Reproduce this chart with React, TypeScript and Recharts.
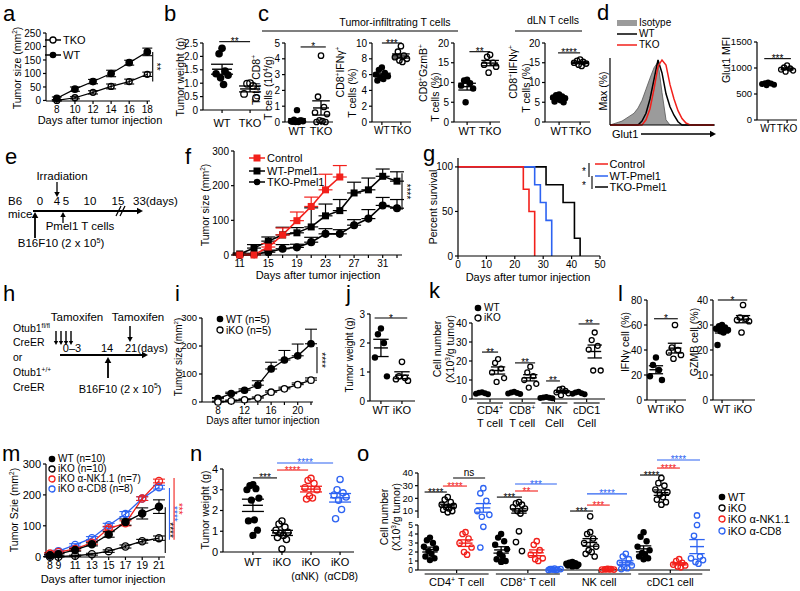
import React from 'react';
import {
  LineChart, Line, AreaChart, Area, ScatterChart, Scatter,
  XAxis, YAxis, ErrorBar, ReferenceLine,
} from 'recharts';

const FONT = '"Liberation Sans", Arial, Helvetica, sans-serif';
const RED = '#f2201b';
const BLUE = '#2d63f2';
const INK = '#000';

// a: tumor growth
const aDays = [8, 10, 12, 14, 16, 18];
const aWT = [8, 42, 70, 100, 140, 180];
const aWTsem = [5, 8, 8, 12, 9, 14];
const aTKO = [0, 10, 30, 52, 70, 97];
const aTKOsem = [2, 4, 6, 9, 9, 8];

// b: tumor weight
const bWT = [2.3, 2.1, 1.45, 1.35, 1.3, 1.2, 0.95];
const bTKO = [1.0, 0.98, 0.9, 0.6, 0.45];
const wtTko = ['WT', 'TKO'];

// c: infiltrating / dLN T cells
const c1WT = [0.75, 0.15, 0.1, 0.05, 0.05, 0, 0, 0.02, 0.1];
const c1TKO = [4.2, 1.6, 0.95, 0.6, 0.5, 0.1, 0.05, 0, 0];
const c2WT = [6.9, 6.6, 6.2, 6.0, 5.8, 5.6, 5.45, 5.25];
const c2TKO = [9.6, 8.9, 8.4, 8.2, 8.0, 7.8, 7.6];
const c3WT = [10.7, 10.5, 9.8, 9.2, 8.5, 5.0];
const c3TKO = [17, 16.5, 15, 14.5, 14, 12.5];
const c4WT = [7.0, 6.8, 6.5, 6.2, 6.0, 5.8, 5.5, 5.2, 5.0];
const c4TKO = [15.8, 15.5, 15.2, 15.0, 14.8, 14.5, 14.2];

// d: Glut1 histogram (% of max) and MFI
const histCh = [0, 4, 8, 12, 16, 20, 24, 28, 32, 36, 40, 44, 48, 52, 56, 60, 64, 68, 72, 76, 80, 84, 88, 92, 96, 100, 104];
const histIso = [0, 2, 4, 6, 10, 14, 18, 26, 38, 55, 72, 88, 97, 50, 8, 0, 0, 0, 0, 0, 0, 0, 0, 0, 0, 0, 0];
const histWT = [0, 0, 0, 0, 0, 0, 0, 0, 6, 18, 40, 70, 100, 80, 48, 28, 15, 5, 0, 0, 0, 0, 0, 0, 0, 0, 0];
const histTKO = [0, 0, 0, 0, 0, 0, 0, 0, 0, 8, 25, 55, 90, 100, 92, 62, 40, 22, 10, 3, 0, 0, 0, 0, 0, 0, 0];
const dWT = [720, 705, 700, 690, 680, 670];
const dTKO = [1050, 1010, 990, 970, 950, 930];

// f: adoptive transfer growth
const fDays = [11, 13, 15, 17, 19, 21, 23, 25, 27, 29, 31, 33];
const fCtlDays = [11, 13, 15, 17, 19, 21, 23, 25];
const fCtl = [0, 0, 23, 58, 99, 140, 188, 225];
const fCtlUp = [2, 2, 10, 20, 25, 27, 45, 33];
const fWT = [3, 20, 40, 58, 64, 81, 113, 128, 179, 188, 227, 213];
const fWTUp = [3, 10, 12, 22, 15, 55, 34, 32, 31, 34, 21, 27];
const fTKO = [0, 2, 8, 18, 22, 37, 61, 61, 86, 105, 143, 135];
const fTKOUp = [3, 3, 6, 12, 9, 14, 15, 12, 16, 26, 23, 25];

// g: survival
const gCtlT = [0, 23, 25, 27];
const gCtlS = [100, 75, 50, 0];
const gWTT = [0, 27, 29, 31, 33];
const gWTS = [100, 80, 60, 40, 0];
const gTKOT = [0, 31, 37, 41, 43];
const gTKOS = [100, 80, 60, 20, 0];

// i: inducible KO growth
const iDays = [8, 10, 12, 14, 16, 18, 20, 22];
const iWT = [12, 30, 42, 60, 118, 150, 165, 208];
const iWTUp = [4, 5, 5, 16, 24, 34, 42, 52];
const iKO = [0, 4, 8, 14, 35, 47, 62, 78];
const iKOUp = [3, 3, 3, 4, 5, 6, 6, 8];

// j
const jWT = [2.5, 2.3, 2.0, 1.5, 0.85];
const jKO = [1.35, 0.85, 0.8, 0.75, 0.7];
const wtIko = ['WT', 'iKO'];

// k: cell numbers
const kCD4WT = [3.6, 3.3, 3.0, 2.8, 2.5];
const kCD4KO = [21, 19, 16, 14, 11, 9];
const kCD8WT = [3.8, 3.4, 3.1, 2.9, 2.6];
const kCD8KO = [17, 14, 12, 10, 8, 6];
const kNKWT = [1.0, 0.8, 0.6, 0.5, 0.4];
const kNKKO = [5.5, 5, 4.2, 3.5, 3, 2];
const kDC1WT = [3.8, 3.4, 3.0, 2.8, 2.5];
const kDC1KO = [35, 31, 28, 26, 15, 15];
const kName = ['CD4', 'CD8', 'NK', 'cDC1'];
const kSup = ['+', '+', '', ''];
const kName2 = ['T cell', 'T cell', 'Cell', 'Cell'];

// l
const l1WT = [34, 28, 24, 19, 16];
const l1KO = [60, 42, 40, 38, 36, 33];
const l2WT = [30, 29.5, 29, 28.5, 28, 27.5, 27, 22];
const l2KO = [38, 33, 32.5, 32, 31.5, 27];

// m: depletion growth
const mDays = [8, 9, 11, 13, 15, 17, 19, 21];
const mWT = [5, 8, 22, 40, 72, 112, 140, 162];
const mWTsem = [3, 3, 4, 5, 9, 10, 18, 22];
const mKO = [0, 0, 3, 8, 18, 33, 50, 60];
const mKOsem = [1, 1, 2, 3, 4, 5, 6, 7];
const mNK = [10, 15, 25, 45, 92, 108, 188, 245];
const mNKsem = [3, 3, 4, 5, 6, 8, 6, 6];
const mCD8 = [5, 18, 38, 60, 102, 138, 188, 225];
const mCD8sem = [3, 3, 4, 5, 6, 8, 6, 6];

// n: tumor weight
const nWT = [3.25, 3.2, 3.05, 3.0, 2.6, 2.5, 1.55, 1.5, 1.05, 0.8];
const nKO = [1.5, 1.35, 1.2, 1.05, 0.95, 0.9, 0.8, 0.7, 0.6, 0.15];
const nNK = [3.55, 3.45, 3.3, 3.1, 3.0, 2.7, 2.6, 2.55];
const nCD8 = [3.5, 3.0, 2.85, 2.75, 2.65, 2.5, 2.05, 1.6];
const nName = ['WT', 'iKO', 'iKO', 'iKO'];
const nName2 = ['', '', '(αNK)', '(αCD8)'];

// o: cell numbers with depletion
const oCD4WT = [3.6, 3.3, 3.0, 2.6, 2.4, 2.1, 1.8, 1.5, 1.3, 1.1];
const oCD4KO = [21, 19, 17, 15, 14, 13, 12, 11, 10, 9];
const oCD4NK = [4.2, 4.0, 3.5, 3.0, 2.5, 2.0, 1.7];
const oCD4CD8 = [28, 24, 18, 10, 7, 5.5, 4.8, 2.5];
const oCD8WT = [4.0, 3.6, 3.2, 2.8, 2.3, 1.8, 1.5, 1.2, 1.0, 0.9];
const oCD8KO = [17, 16, 15, 13, 12, 10, 8, 4.3, 3.1, 2.1];
const oCD8NK = [3.2, 2.8, 2.2, 1.7, 1.3, 1.2, 1.0];
const oCD8CD8 = [0.15, 0.1, 0.05, 0, 0.1, 0.05, 0, 0.1];
const oNKWT = [0.9, 0.8, 0.75, 0.7, 0.6, 0.55, 0.5, 0.5, 0.45, 0.4];
const oNKKO = [5.8, 4.2, 4.0, 3.5, 3.0, 2.6, 2.2, 2.0, 1.8, 1.5];
const oNKNK = [0.12, 0.08, 0.1, 0.05, 0.05, 0.1, 0.08];
const oNKCD8 = [1.8, 1.5, 1.2, 0.8, 0.5, 0.3, 0.2, 0.1];
const oDC1WT = [4.2, 3.7, 3.2, 2.6, 2.2, 1.9, 1.7, 1.5, 1.3, 1.2];
const oDC1KO = [36, 32, 30, 27, 25, 23, 21, 19, 17, 15];
const oDC1NK = [1.2, 1.0, 0.8, 0.6, 0.5, 0.4, 0.3];
const oDC1CD8 = [6.5, 5.0, 3.8, 1.5, 1.3, 1.1, 0.9, 0.7];
const oName = ['CD4', 'CD8', 'NK cell', 'cDC1 cell'];
const oSup = ['+', '+', '', ''];
const oName2 = [' T cell', ' T cell', '', ''];

type Box = { x0: number; y0: number; x1: number; y1: number };
type Grp = { pos: number; vals: number[]; open?: boolean; color?: string };
type Sig = { x1: number; x2: number; y: number; t: string; c?: string };

const AX = { stroke: INK, strokeWidth: 1.2 };
const TK = { fill: INK, fontSize: 10 };

function frame(b: Box, o: { t?: number; r?: number; yw?: number; xh?: number } = {}) {
  const t = o.t ?? 14, r = o.r ?? 8, yw = o.yw ?? 26, xh = o.xh ?? 16;
  return {
    pos: { position: 'absolute' as const, left: b.x0 - yw - 2, top: b.y0 - t },
    width: b.x1 - b.x0 + yw + 2 + r,
    height: b.y1 - b.y0 + t + xh + 2,
    margin: { top: t, right: r, left: 2, bottom: 2 },
    yw, xh,
  };
}

const yNum = (domain: number[], ticks: number[], yw: number, fmt?: any, dk?: string, fs = 10) => (
  <YAxis type="number" dataKey={dk} domain={domain} ticks={ticks} width={yw} tickSize={3}
    tick={{ ...TK, fontSize: fs }} axisLine={AX} tickLine={AX} interval={0} tickFormatter={fmt} />
);

const xNum = (domain: number[], ticks: number[], xh: number, fmt?: any, tick?: any, hide?: boolean, tm = 2) => (
  <XAxis type="number" dataKey="x" domain={domain} ticks={ticks} height={xh} tickSize={3} tickMargin={tm}
    tick={tick ?? { ...TK, fontSize: 11 }} axisLine={AX} tickLine={AX} interval={0} tickFormatter={fmt} hide={hide} />
);

const hLabel = (t: string, col: string, fs = 10) => (p: any) => {
  const vb = p.viewBox || {};
  const star = /^\*+$/.test(t);
  return (
    <text x={vb.x + (vb.width || 0) / 2} y={vb.y + (star ? 3.5 : -2)} textAnchor="middle" fontSize={fs} fill={col}>{t}</text>
  );
};

const vLabel = (t: string, col: string, fs = 10) => (p: any) => {
  const vb = p.viewBox || {};
  const x = vb.x + 0.5;
  const y = vb.y + (vb.height || 0) / 2;
  return <text x={x} y={y} transform={`rotate(90 ${x} ${y})`} textAnchor="middle" fontSize={fs} fill={col}>{t}</text>;
};

const sigLine = (s: Sig, k: string, fs = 10) => (
  <ReferenceLine key={k} segment={[{ x: s.x1, y: s.y }, { x: s.x2, y: s.y }]} stroke={s.c ?? INK}
    strokeWidth={1.1} ifOverflow="visible" label={hLabel(s.t, s.c ?? INK, fs)} />
);

const vSig = (x: number, y1: number, y2: number, t: string, k: string, col = INK) => (
  <ReferenceLine key={k} segment={[{ x, y: y1 }, { x, y: y2 }]} stroke={col} strokeWidth={1.1}
    ifOverflow="visible" label={vLabel(t, col)} />
);

const meanSem = (v: number[]) => {
  const m = v.reduce((a, b) => a + b, 0) / v.length;
  const sd = Math.sqrt(v.reduce((a, b) => a + (b - m) ** 2, 0) / Math.max(1, v.length - 1));
  return { m, e: sd / Math.sqrt(v.length) };
};

// horizontal spread (px) for overlapping dots
const JIT = [0, -3, 3, -6, 6, -1.5, 1.5, -4.5, 4.5, 0, -3, 3];

const dotShape = (open: boolean, col: string, r: number) => (p: any) => (
  <circle cx={p.cx} cy={p.cy} r={open ? r - 0.5 : r} fill={open ? 'none' : col} stroke={col} strokeWidth={open ? 1.3 : 0} />
);
const meanShape = (col: string, w: number) => (p: any) => (
  <line x1={p.cx - w / 2} x2={p.cx + w / 2} y1={p.cy} y2={p.cy} stroke={col} strokeWidth={1.4} />
);

function DotPlot(props: {
  box: Box; xd: number[]; yd: number[]; yTicks: number[]; groups: Grp[];
  xTicks?: number[]; xFmt?: any; xTick?: any; sigs?: Sig[]; meanW?: number; r?: number;
  t?: number; rr?: number; xh?: number; yw?: number; hideX?: boolean; yFmt?: any; keep?: (v: number) => boolean;
  tm?: number; yfs?: number; xfs?: number;
}) {
  const { box, xd, yd, groups, sigs = [], meanW = 16, r = 3.4, keep = () => true } = props;
  const f = frame(box, { t: props.t, r: props.rr, xh: props.hideX ? 0 : props.xh, yw: props.yw });
  const ppu = (box.x1 - box.x0) / (xd[1] - xd[0]);
  const xt = props.xTick ?? (props.xfs ? { ...TK, fontSize: props.xfs } : undefined);
  return (
    <div style={f.pos}>
      <ScatterChart width={f.width} height={f.height} margin={f.margin}>
        {xNum(xd, props.xTicks ?? groups.map((g) => g.pos), f.xh, props.xFmt, xt, props.hideX, props.tm)}
        {yNum(yd, props.yTicks, f.yw, props.yFmt, 'y', props.yfs)}
        {groups.map((g, gi) => {
          const pts = g.vals.filter(keep).map((v, i) => ({ x: g.pos + JIT[i % JIT.length] / ppu, y: v }));
          return <Scatter key={'p' + gi} data={pts} isAnimationActive={false} shape={dotShape(!!g.open, g.color ?? INK, r)} />;
        })}
        {groups.map((g, gi) => {
          const ms = meanSem(g.vals);
          const d = keep(ms.m) ? [{ x: g.pos, y: ms.m, e: ms.e }] : [];
          const col = g.color ?? INK;
          return (
            <Scatter key={'m' + gi} data={d} isAnimationActive={false} shape={meanShape(col, meanW)}>
              <ErrorBar dataKey="e" direction="y" width={meanW * 0.55} stroke={col} strokeWidth={1.3} />
            </Scatter>
          );
        })}
        {sigs.map((s, i) => sigLine(s, 's' + i))}
      </ScatterChart>
    </div>
  );
}

function Sup({ children }: any) {
  return <sup style={{ fontSize: '0.62em', lineHeight: 0, verticalAlign: '0.6em' }}>{children}</sup>;
}

function Txt({ x, y, s = 11, rot = false, a = 'middle', c = INK, children }: any) {
  const tx = a === 'middle' ? '-50%' : a === 'end' ? '-100%' : '0';
  return (
    <div style={{
      position: 'absolute', left: x, top: y, fontSize: s, lineHeight: 1, whiteSpace: 'nowrap', color: c,
      transform: `translate(${tx},-50%)${rot ? ' rotate(-90deg)' : ''}`,
    }}>{children}</div>
  );
}

function L({ x, b, children }: any) {
  return <div style={{ position: 'absolute', left: x, top: b - 19, fontSize: 22, lineHeight: 1 }}>{children}</div>;
}

function Leg({ x, y, m, col = INK, w = 16, s = 11, line = true, children }: any) {
  return (
    <>
      <svg style={{ position: 'absolute', left: x - w / 2, top: y - 6 }} width={w} height={12}>
        {line && <line x1={0} x2={w} y1={6} y2={6} stroke={col} strokeWidth={1.5} />}
        {m === 'fill' && <circle cx={w / 2} cy={6} r={3.3} fill={col} />}
        {m === 'open' && <circle cx={w / 2} cy={6} r={3} fill="#fff" stroke={col} strokeWidth={1.3} />}
        {m === 'sq' && <rect x={w / 2 - 3.5} y={2.5} width={7} height={7} fill={col} />}
        {m === 'box' && <rect x={0} y={3} width={w} height={6} fill="#9b9b9b" />}
      </svg>
      <Txt x={x + w / 2 + 2} y={y} s={s} a="start">{children}</Txt>
    </>
  );
}

const circ = (fill: string, stroke: string, r = 3.2) => (p: any) => (
  <circle key={p.index} cx={p.cx} cy={p.cy} r={r} fill={fill} stroke={stroke} strokeWidth={1.3} />
);
const sq = (col: string, s = 7) => (p: any) => (
  <rect key={p.index} x={p.cx - s / 2} y={p.cy - s / 2} width={s} height={s} fill={col} />
);

function PanelA() {
  const box = { x0: 46, y0: 33, x1: 150, y1: 101 };
  const f = frame(box, { r: 22, yw: 24 });
  const data = aDays.map((d, i) => ({ x: d, wt: aWT[i], wtE: aWTsem[i], tko: aTKO[i], tkoE: aTKOsem[i] }));
  return (
    <div style={f.pos}>
      <LineChart width={f.width} height={f.height} margin={f.margin} data={data}>
        {xNum([6.8, 18.3], aDays, f.xh, undefined, TK)}
        {yNum([0, 250], [0, 50, 100, 150, 200, 250], f.yw)}
        <Line dataKey="tko" stroke={INK} strokeWidth={1.2} dot={circ('none', INK, 3)} isAnimationActive={false}>
          <ErrorBar dataKey="tkoE" width={5} stroke={INK} strokeWidth={1.1} direction="y" />
        </Line>
        <Line dataKey="wt" stroke={INK} strokeWidth={1.2} dot={circ(INK, INK, 3.2)} isAnimationActive={false}>
          <ErrorBar dataKey="wtE" width={5} stroke={INK} strokeWidth={1.1} direction="y" />
        </Line>
        {vSig(18.6, 180, 70, '**', 'va')}
      </LineChart>
    </div>
  );
}

function PanelF() {
  const box = { x0: 234, y0: 151, x1: 402, y1: 255 };
  const f = frame(box, { r: 18, yw: 26 });
  const data = fDays.map((d, i) => ({ x: d, wt: fWT[i], wtE: [0, fWTUp[i]], tko: fTKO[i], tkoE: [0, fTKOUp[i]] }));
  const ctl = fCtlDays.map((d, i) => ({ x: d, c: fCtl[i], cE: [0, fCtlUp[i]] }));
  return (
    <div style={f.pos}>
      <LineChart width={f.width} height={f.height} margin={f.margin} data={data}>
        {xNum([10.2, 33.7], fDays, f.xh, (v: number) => ((v - 11) % 4 === 0 ? String(v) : ''), TK)}
        {yNum([0, 300], [0, 100, 200, 300], f.yw)}
        <Line dataKey="tko" stroke={INK} strokeWidth={1.6} dot={circ(INK, INK, 3.4)} isAnimationActive={false}>
          <ErrorBar dataKey="tkoE" width={7} stroke={INK} strokeWidth={1.2} direction="y" />
        </Line>
        <Line dataKey="wt" stroke={INK} strokeWidth={1.6} dot={sq(INK)} isAnimationActive={false}>
          <ErrorBar dataKey="wtE" width={7} stroke={INK} strokeWidth={1.2} direction="y" />
        </Line>
        <Line data={ctl} dataKey="c" stroke={RED} strokeWidth={1.6} dot={sq(RED)} isAnimationActive={false}>
          <ErrorBar dataKey="cE" width={7} stroke={RED} strokeWidth={1.2} direction="y" />
        </Line>
        {vSig(33.7, 236, 130, '****', 'vf')}
      </LineChart>
    </div>
  );
}

function PanelG() {
  const box = { x0: 458, y0: 158, x1: 600, y1: 256 };
  const f = frame(box, { r: 10, yw: 24 });
  const ctl = gCtlT.map((t, i) => ({ x: t, y: gCtlS[i] }));
  const wt = gWTT.map((t, i) => ({ x: t, y: gWTS[i] }));
  const tko = gTKOT.map((t, i) => ({ x: t, y: gTKOS[i] }));
  return (
    <div style={f.pos}>
      <LineChart width={f.width} height={f.height} margin={f.margin}>
        {xNum([0, 50], [0, 10, 20, 30, 40, 50], f.xh, undefined, TK)}
        {yNum([0, 110], [0, 50, 100], f.yw, undefined, 'y')}
        <Line data={tko} dataKey="y" type="stepAfter" stroke={INK} strokeWidth={1.6} dot={false} isAnimationActive={false} />
        <Line data={wt} dataKey="y" type="stepAfter" stroke={BLUE} strokeWidth={1.6} dot={false} isAnimationActive={false} />
        <Line data={ctl} dataKey="y" type="stepAfter" stroke={RED} strokeWidth={1.6} dot={false} isAnimationActive={false} />
      </LineChart>
    </div>
  );
}

function PanelI() {
  const box = { x0: 202, y0: 318, x1: 313, y1: 402 };
  const f = frame(box, { r: 18, yw: 26 });
  const data = iDays.map((d, i) => ({ x: d, wt: iWT[i], wtE: [0, iWTUp[i]], ko: iKO[i], koE: [0, iKOUp[i]] }));
  return (
    <div style={f.pos}>
      <LineChart width={f.width} height={f.height} margin={f.margin} data={data}>
        {xNum([5.6, 22.3], iDays, f.xh, (v: number) => ((v - 8) % 4 === 0 ? String(v) : ''), TK)}
        {yNum([0, 300], [0, 100, 200, 300], f.yw, undefined, undefined, 9.5)}
        <Line dataKey="wt" stroke={INK} strokeWidth={1.3} dot={circ(INK, INK, 3.2)} isAnimationActive={false}>
          <ErrorBar dataKey="wtE" width={6} stroke={INK} strokeWidth={1.1} direction="y" />
        </Line>
        <Line dataKey="ko" stroke={INK} strokeWidth={1.3} dot={circ('#fff', INK, 3.2)} isAnimationActive={false}>
          <ErrorBar dataKey="koE" width={6} stroke={INK} strokeWidth={1.1} direction="y" />
        </Line>
        {vSig(22.9, 196, 103, '****', 'vi')}
      </LineChart>
    </div>
  );
}

function PanelM() {
  const box = { x0: 46, y0: 464, x1: 165, y1: 557 };
  const f = frame(box, { r: 34, yw: 26 });
  const data = mDays.map((d, i) => ({
    x: d, wt: mWT[i], wtE: mWTsem[i], ko: mKO[i], koE: mKOsem[i],
    nk: mNK[i], nkE: mNKsem[i], cd8: mCD8[i], cd8E: mCD8sem[i],
  }));
  return (
    <div style={f.pos}>
      <LineChart width={f.width} height={f.height} margin={f.margin} data={data}>
        {xNum([7.52, 21.72], mDays, f.xh, undefined, { ...TK, fontSize: 10.5 })}
        {yNum([0, 300], [0, 100, 200, 300], f.yw, undefined, undefined, 11)}
        <Line dataKey="cd8" stroke={BLUE} strokeWidth={1.3} dot={circ('none', BLUE, 3.6)} isAnimationActive={false}>
          <ErrorBar dataKey="cd8E" width={6} stroke={BLUE} strokeWidth={1.1} direction="y" />
        </Line>
        <Line dataKey="nk" stroke={RED} strokeWidth={1.3} dot={circ('none', RED, 3.6)} isAnimationActive={false}>
          <ErrorBar dataKey="nkE" width={6} stroke={RED} strokeWidth={1.1} direction="y" />
        </Line>
        <Line dataKey="ko" stroke={INK} strokeWidth={1.3} dot={circ('none', INK, 3.6)} isAnimationActive={false}>
          <ErrorBar dataKey="koE" width={6} stroke={INK} strokeWidth={1.1} direction="y" />
        </Line>
        <Line dataKey="wt" stroke={INK} strokeWidth={1.3} dot={circ(INK, INK, 3.6)} isAnimationActive={false}>
          <ErrorBar dataKey="wtE" width={6} stroke={INK} strokeWidth={1.1} direction="y" />
        </Line>
        {vSig(21.75, 160, 12, '****', 'm1')}
        {vSig(22.25, 222, 55, '****', 'm2', BLUE)}
        {vSig(22.8, 255, 55, '***', 'm3', RED)}
      </LineChart>
    </div>
  );
}

function PanelD() {
  const box = { x0: 610, y0: 58, x1: 715, y1: 125 };
  const f = frame(box, { t: 4, r: 4, yw: 4, xh: 2 });
  const data = histCh.map((c, i) => ({ x: c, iso: histIso[i], wt: histWT[i], tko: histTKO[i] }));
  return (
    <div style={f.pos}>
      <AreaChart width={f.width} height={f.height} margin={f.margin} data={data}>
        <XAxis type="number" dataKey="x" domain={[0, 105]} height={2} tick={false} tickLine={false} axisLine={AX} />
        <YAxis type="number" domain={[0, 103]} width={4} ticks={[0, 10, 20, 30, 40, 50, 60, 70, 80, 90, 100]}
          tick={false} tickSize={2} tickLine={{ stroke: INK, strokeWidth: 0.8 }} axisLine={AX} />
        <Area dataKey="iso" type="linear" stroke="#555" strokeWidth={0.8} fill="#9b9b9b" fillOpacity={1} isAnimationActive={false} />
        <Area dataKey="wt" type="linear" stroke={INK} strokeWidth={1.5} fill="none" isAnimationActive={false} />
        <Area dataKey="tko" type="linear" stroke={RED} strokeWidth={1.5} fill="none" isAnimationActive={false} />
      </AreaChart>
    </div>
  );
}

const KTick = (p: any) => {
  const i = p.index;
  return (
    <g>
      <line x1={p.x - 13} x2={p.x + 13} y1={p.y - 1} y2={p.y - 1} stroke={INK} strokeWidth={1.1} />
      <text x={p.x} y={p.y + 10} textAnchor="middle" fontSize={11}>
        {kName[i]}<tspan dy={-4} fontSize={7}>{kSup[i] || ' '}</tspan>
      </text>
      <text x={p.x} y={p.y + 23} textAnchor="middle" fontSize={11}>{kName2[i]}</text>
    </g>
  );
};

const NTick = (p: any) => {
  const i = p.index;
  return (
    <g>
      <text x={p.x} y={p.y + 9} textAnchor="middle" fontSize={11}>{nName[i]}</text>
      <text x={p.x + (i === 2 ? -6 : 1)} y={p.y + 23} textAnchor="middle" fontSize={10.5}>{nName2[i]}</text>
    </g>
  );
};

const OTick = (p: any) => {
  const i = p.index;
  return (
    <g>
      <line x1={p.x - 32} x2={p.x + 32} y1={p.y - 1} y2={p.y - 1} stroke={INK} strokeWidth={1.1} />
      <text x={p.x} y={p.y + 11} textAnchor="middle" fontSize={11}>
        {oName[i]}<tspan dy={-4} fontSize={7}>{oSup[i]}</tspan><tspan dy={4}>{oName2[i]}</tspan>
      </text>
    </g>
  );
};

const two = (labels: string[]) => (v: number) => labels[Math.round(v)] ?? '';

function PanelO() {
  const X = [-0.67, 15.73];
  const cols = [INK, INK, RED, BLUE];
  const opens = [false, true, true, true];
  const sets = [
    [oCD4WT, oCD4KO, oCD4NK, oCD4CD8],
    [oCD8WT, oCD8KO, oCD8NK, oCD8CD8],
    [oNKWT, oNKKO, oNKNK, oNKCD8],
    [oDC1WT, oDC1KO, oDC1NK, oDC1CD8],
  ];
  const groups: Grp[] = [];
  sets.forEach((s, gi) => s.forEach((vals, k) => groups.push({ pos: gi * 4 + k, vals, open: opens[k], color: cols[k] })));
  const sigs: Sig[] = [
    { x1: -0.3, x2: 0.95, y: 25, t: '****' },
    { x1: 0.73, x2: 2.08, y: 29.7, t: '****', c: RED },
    { x1: 1.3, x2: 3.1, y: 36, t: 'ns' },
    { x1: 3.76, x2: 5.17, y: 21, t: '***' },
    { x1: 4.78, x2: 6.07, y: 25.8, t: '**', c: RED },
    { x1: 4.78, x2: 7.13, y: 31.3, t: '***', c: BLUE },
    { x1: 7.87, x2: 9.16, y: 10, t: '***' },
    { x1: 8.82, x2: 10.1, y: 14.7, t: '***', c: RED },
    { x1: 8.82, x2: 11.07, y: 23.5, t: '****', c: BLUE },
    { x1: 11.8, x2: 13.1, y: 38.4, t: '****' },
    { x1: 12.75, x2: 14.04, y: 43.9, t: '****', c: RED },
    { x1: 12.75, x2: 15.17, y: 50.3, t: '****', c: BLUE },
  ];
  return (
    <>
      <DotPlot box={{ x0: 418, y0: 473, x1: 710, y1: 518 }} xd={X} yd={[4.5, 40]} yTicks={[10, 20, 30, 40]}
        groups={groups} hideX t={26} sigs={sigs} meanW={14} r={3.2} keep={(v) => v > 5} yw={20} yfs={9.5} />
      <DotPlot box={{ x0: 418, y0: 525, x1: 710, y1: 570 }} xd={X} yd={[0, 5]} yTicks={[0, 1, 2, 3, 4, 5]}
        groups={groups} xTicks={[1.5, 5.5, 9.5, 13.5]} xTick={OTick} xh={16} t={7} meanW={14} r={3.2}
        keep={(v) => v <= 5} yw={20} yfs={8.5} />
    </>
  );
}

function Overlay() {
  const Arrow = ({ x1, y1, x2, y2, h = 5, w = 1.3 }: any) => {
    const dx = x2 - x1, dy = y2 - y1, len = Math.hypot(dx, dy), ux = dx / len, uy = dy / len;
    const bx = x2 - ux * h, by = y2 - uy * h, s = h * 0.55;
    return (
      <g>
        <line x1={x1} y1={y1} x2={bx} y2={by} stroke={INK} strokeWidth={w} />
        <polygon points={`${x2},${y2} ${bx - uy * s},${by + ux * s} ${bx + uy * s},${by - ux * s}`} fill={INK} />
      </g>
    );
  };
  return (
    <svg width={800} height={591} style={{ position: 'absolute', left: 0, top: 0, pointerEvents: 'none' }}>
      <line x1={262} x2={458} y1={31} y2={31} stroke={INK} strokeWidth={1.2} />
      <line x1={515} x2={582} y1={31} y2={31} stroke={INK} strokeWidth={1.2} />
      <Arrow x1={641} y1={134} x2={716} y2={134} h={6} w={1.6} />
      {/* e */}
      <Arrow x1={57} y1={182} x2={57} y2={197} />
      <Arrow x1={33} y1={211} x2={143} y2={211} h={6} w={2} />
      <line x1={116} y1={216} x2={121} y2={206} stroke={INK} strokeWidth={1.2} />
      <line x1={120} y1={216} x2={125} y2={206} stroke={INK} strokeWidth={1.2} />
      <Arrow x1={35} y1={238} x2={35} y2={212} h={6} w={1.8} />
      <Arrow x1={63} y1={223} x2={63} y2={212} />
      {/* g brackets */}
      <line x1={589} y1={163} x2={589} y2={177} stroke={INK} strokeWidth={1.1} />
      <line x1={592} y1={176} x2={592} y2={189} stroke={INK} strokeWidth={1.1} />
      {/* h */}
      {[56, 61, 66, 71].map((x) => <Arrow key={x} x1={x} y1={331} x2={x} y2={345} h={4} w={1.4} />)}
      <Arrow x1={130} y1={326} x2={130} y2={342} h={5} w={1.5} />
      <Arrow x1={60} y1={355} x2={148} y2={355} h={6} w={2} />
      <Arrow x1={108} y1={378} x2={108} y2={357} h={6} w={1.8} />
    </svg>
  );
}

export default function App() {
  return (
    <div style={{ position: 'absolute', left: 0, top: 0, width: 800, height: 591, background: '#fff', fontFamily: FONT, color: INK, overflow: 'hidden' }}>
      {/* panel letters */}
      <L x={3} b={22}>a</L>
      <L x={164} b={22}>b</L>
      <L x={258} b={22}>c</L>
      <L x={597} b={21}>d</L>
      <L x={5} b={165}>e</L>
      <L x={185} b={165}>f</L>
      <L x={423} b={162}>g</L>
      <L x={3} b={302}>h</L>
      <L x={175} b={302}>i</L>
      <L x={346} b={302}>j</L>
      <L x={429} b={299}>k</L>
      <L x={618} b={302}>l</L>
      <L x={2} b={462}>m</L>
      <L x={190} b={462}>n</L>
      <L x={357} b={462}>o</L>

      {/* a */}
      <PanelA />
      <Leg x={53} y={40} m="open">TKO</Leg>
      <Leg x={53} y={55} m="fill">WT</Leg>
      <Txt x={17} y={68} s={10.5} rot>Tumor size (mm<Sup>2</Sup>)</Txt>
      <Txt x={100} y={120}>Days after tumor injection</Txt>

      {/* b */}
      <DotPlot box={{ x0: 203, y0: 43, x1: 268, y1: 110 }} xd={[-0.68, 1.64]} yd={[0, 2.5]}
        yTicks={[0, 0.5, 1, 1.5, 2, 2.5]} yFmt={(v: number) => (v === 0 ? '0' : v.toFixed(1))}
        groups={[{ pos: 0, vals: bWT }, { pos: 1, vals: bTKO, open: true }]} xFmt={two(wtTko)} meanW={20} r={3.8}
        sigs={[{ x1: -0.1, x2: 1.0, y: 2.55, t: '**' }]} tm={6} xh={20} />
      <Txt x={180} y={77} s={10.5} rot>Tumor weight (g)</Txt>

      {/* c */}
      <Txt x={395} y={22} s={10.5}>Tumor-infiltrating T cells</Txt>
      <Txt x={553} y={20} s={10.5}>dLN T cells</Txt>
      <DotPlot box={{ x0: 285, y0: 43, x1: 333, y1: 122 }} xd={[-0.5, 1.5]} yd={[0, 5]} yTicks={[0, 1, 2, 3, 4, 5]}
        groups={[{ pos: 0, vals: c1WT }, { pos: 1, vals: c1TKO, open: true }]} xFmt={two(wtTko)} r={3.2}
        sigs={[{ x1: 0.15, x2: 1.2, y: 4.75, t: '*' }]} yw={18} />
      <Txt x={256} y={80} s={10.5} rot>Total CD8<Sup>+</Sup></Txt>
      <Txt x={268} y={88} s={10.5} rot>T cells (10<Sup>4</Sup>/g)</Txt>
      <DotPlot box={{ x0: 372, y0: 43, x1: 411, y1: 122 }} xd={[-0.52, 1.53]} yd={[0, 10]} yTicks={[0, 2, 4, 6, 8, 10]}
        groups={[{ pos: 0, vals: c2WT }, { pos: 1, vals: c2TKO, open: true }]} xFmt={two(wtTko)} r={3.2}
        sigs={[{ x1: 0, x2: 1.05, y: 10, t: '***' }]} yw={20} xfs={10} rr={4} />
      <Txt x={340} y={72} s={10.5} rot>CD8<Sup>+</Sup>IFNγ<Sup>+</Sup></Txt>
      <Txt x={352} y={93} s={10.5} rot>T cells (%)</Txt>
      <DotPlot box={{ x0: 454, y0: 43, x1: 500, y1: 122 }} xd={[-0.57, 1.43]} yd={[0, 20]} yTicks={[0, 5, 10, 15, 20]}
        groups={[{ pos: 0, vals: c3WT }, { pos: 1, vals: c3TKO, open: true }]} xFmt={two(wtTko)} r={3.2}
        sigs={[{ x1: 0.1, x2: 1.0, y: 17.8, t: '**' }]} yw={20} />
      <Txt x={423} y={73} s={10.5} rot>CD8<Sup>+</Sup>GzmB<Sup>+</Sup></Txt>
      <Txt x={435} y={97} s={10.5} rot>T cells (%)</Txt>
      <DotPlot box={{ x0: 545, y0: 43, x1: 590, y1: 122 }} xd={[-0.67, 1.47]} yd={[0, 20]} yTicks={[0, 5, 10, 15, 20]}
        groups={[{ pos: 0, vals: c4WT }, { pos: 1, vals: c4TKO, open: true }]} xFmt={two(wtTko)} r={3.2}
        sigs={[{ x1: -0.05, x2: 1.0, y: 17.5, t: '****' }]} yw={20} />
      <Txt x={513} y={72} s={10.5} rot>CD8<Sup>+</Sup>IIFNγ<Sup>+</Sup></Txt>
      <Txt x={526} y={88} s={10.5} rot>T cells (%)</Txt>

      {/* d */}
      <Leg x={627} y={23} m="box" line={false} w={20} s={10}>Isotype</Leg>
      <Leg x={627} y={34} w={20} s={10}>WT</Leg>
      <Leg x={627} y={44.5} w={20} s={10} col={RED}>TKO</Leg>
      <PanelD />
      <Txt x={603} y={91} s={10.5} rot>Max (%)</Txt>
      <Txt x={612} y={134} a="start">Glut1</Txt>
      <DotPlot box={{ x0: 757, y0: 42, x1: 797, y1: 120 }} xd={[-0.58, 1.52]} yd={[0, 1500]} yTicks={[0, 500, 1000, 1500]}
        groups={[{ pos: 0, vals: dWT }, { pos: 1, vals: dTKO, open: true }]} xFmt={two(wtTko)} r={3}
        sigs={[{ x1: -0.2, x2: 1.2, y: 1180, t: '***' }]} yw={26} rr={2} meanW={12} yfs={9.5} xfs={10} />
      <Txt x={726} y={60} s={10.5} rot>Glut1 MFI</Txt>

      {/* e */}
      <Txt x={62} y={177} s={11.5}>Irradiation</Txt>
      <Txt x={8} y={202} s={11.5} a="start">B6</Txt>
      <Txt x={8} y={215} s={11.5} a="start">mice</Txt>
      <Txt x={40} y={202} s={11.5}>0</Txt>
      <Txt x={57} y={202} s={11.5}>4</Txt>
      <Txt x={66} y={202} s={11.5}>5</Txt>
      <Txt x={90} y={202} s={11.5}>10</Txt>
      <Txt x={118} y={202} s={11.5}>15</Txt>
      <Txt x={133} y={202} s={11.5} a="start">33(days)</Txt>
      <Txt x={80} y={227} s={11.5}>Pmel1 T cells</Txt>
      <Txt x={61} y={244} s={11.5}>B16F10 (2 x 10<Sup>5</Sup>)</Txt>

      {/* f */}
      <PanelF />
      <Leg x={257} y={158} m="sq" col={RED}>Control</Leg>
      <Leg x={257} y={171} m="sq">WT-Pmel1</Leg>
      <Leg x={257} y={182} m="fill">TKO-Pmel1</Leg>
      <Txt x={205} y={205} s={10.5} rot>Tumor size (mm<Sup>2</Sup>)</Txt>
      <Txt x={318} y={275}>Days after tumor injection</Txt>

      {/* g */}
      <PanelG />
      <Leg x={601} y={164} line col={RED} w={13}>Control</Leg>
      <Leg x={601} y={176} line col={BLUE} w={13}>WT-Pmel1</Leg>
      <Leg x={601} y={187} line w={13}>TKO-Pmel1</Leg>
      <Txt x={584} y={172} s={10}>*</Txt>
      <Txt x={584} y={186} s={10}>*</Txt>
      <Txt x={433} y={207} s={10.5} rot>Percent survival</Txt>
      <Txt x={528} y={277}>Days after tumor injection</Txt>

      {/* h */}
      <Txt x={77} y={318} s={11.5}>Tamoxifen</Txt>
      <Txt x={138} y={318} s={11.5}>Tamoxifen</Txt>
      <Txt x={13} y={328} s={10.5} a="start">Otub1<Sup>fl/fl</Sup></Txt>
      <Txt x={13} y={342} s={10.5} a="start">CreER</Txt>
      <Txt x={13} y={357} s={10.5} a="start">or</Txt>
      <Txt x={13} y={372} s={10.5} a="start">Otub1<Sup>+/+</Sup></Txt>
      <Txt x={13} y={387} s={10.5} a="start">CreER</Txt>
      <Txt x={72} y={348} s={11}>0–3</Txt>
      <Txt x={107} y={348} s={11}>14</Txt>
      <Txt x={125} y={348} s={11} a="start">21(days)</Txt>
      <Txt x={120} y={389} s={11}>B16F10 (2 x 10<Sup>5</Sup>)</Txt>

      {/* i */}
      <PanelI />
      <Leg x={220} y={319} m="fill" s={10.5} line={false} w={8}>WT (n=5)</Leg>
      <Leg x={220} y={330} m="open" s={10.5} line={false} w={8}>iKO (n=5)</Leg>
      <Txt x={179} y={357} s={10} rot>Tumor size (mm<Sup>2</Sup>)</Txt>
      <Txt x={263} y={421} s={10}>Days after tumor injection</Txt>

      {/* j */}
      <DotPlot box={{ x0: 370, y0: 314, x1: 415, y1: 401 }} xd={[-0.52, 1.62]} yd={[0, 3]} yTicks={[0, 1, 2, 3]}
        groups={[{ pos: 0, vals: jWT }, { pos: 1, vals: jKO, open: true }]} xFmt={two(wtIko)} r={3.2} meanW={14}
        sigs={[{ x1: -0.3, x2: 1.25, y: 2.86, t: '*' }]} yw={16} />
      <Txt x={350} y={355} s={10} rot>Tumor weight (g)</Txt>

      {/* k */}
      <DotPlot box={{ x0: 472, y0: 323, x1: 605, y1: 399 }} xd={[-0.62, 7.64]} yd={[0, 40]} yTicks={[0, 10, 20, 30, 40]}
        groups={[
          { pos: 0, vals: kCD4WT }, { pos: 1, vals: kCD4KO, open: true },
          { pos: 2, vals: kCD8WT }, { pos: 3, vals: kCD8KO, open: true },
          { pos: 4, vals: kNKWT }, { pos: 5, vals: kNKKO, open: true },
          { pos: 6, vals: kDC1WT }, { pos: 7, vals: kDC1KO, open: true },
        ]}
        xTicks={[0.5, 2.5, 4.5, 6.5]} xTick={KTick} xh={30} r={3} meanW={13}
        sigs={[
          { x1: 0, x2: 1, y: 24.7, t: '**' }, { x1: 2.05, x2: 3.3, y: 19, t: '**' },
          { x1: 3.98, x2: 4.84, y: 9.5, t: '**' }, { x1: 6.0, x2: 7.3, y: 39.5, t: '**' },
        ]} yw={18} />
      <Leg x={478} y={308} m="fill" s={10} line={false} w={8}>WT</Leg>
      <Leg x={478} y={318} m="open" s={10} line={false} w={8}>iKO</Leg>
      <Txt x={437} y={349} s={10.5} rot>Cell number</Txt>
      <Txt x={450} y={349} s={10.5} rot>(X10<Sup>3</Sup>/g tumor)</Txt>

      {/* l */}
      <DotPlot box={{ x0: 647, y0: 300, x1: 686, y1: 400 }} xd={[-0.47, 1.58]} yd={[0, 80]} yTicks={[0, 20, 40, 60, 80]}
        groups={[{ pos: 0, vals: l1WT }, { pos: 1, vals: l1KO, open: true }]} xFmt={two(wtIko)} r={3.2} meanW={13}
        sigs={[{ x1: -0.1, x2: 1.15, y: 65, t: '*' }]} yw={18} />
      <Txt x={625} y={342} s={10.5} rot>IFNγ cell (%)</Txt>
      <DotPlot box={{ x0: 713, y0: 300, x1: 755, y1: 400 }} xd={[-0.43, 1.57]} yd={[0, 40]} yTicks={[0, 10, 20, 30, 40]}
        groups={[{ pos: 0, vals: l2WT }, { pos: 1, vals: l2KO, open: true }]} xFmt={two(wtIko)} r={3.2} meanW={13}
        sigs={[{ x1: -0.2, x2: 1.2, y: 40, t: '*' }]} yw={18} />
      <Txt x={694} y={342} s={10.5} rot>GZMB cell (%)</Txt>

      {/* m */}
      <PanelM />
      <Leg x={52} y={459} m="fill" s={10} line={false} w={8}>WT (n=10)</Leg>
      <Leg x={52} y={469} m="open" s={10} line={false} w={8}>iKO (n=10)</Leg>
      <Leg x={52} y={479} m="open" col={RED} s={10} line={false} w={8}>iKO α-NK1.1 (n=7)</Leg>
      <Leg x={52} y={489} m="open" col={BLUE} s={10} line={false} w={8}>iKO α-CD8 (n=8)</Leg>
      <Txt x={14} y={510} s={10.5} rot>Tumor Szie (mm<Sup>2</Sup>)</Txt>
      <Txt x={103} y={579}>Days after tumor injection</Txt>

      {/* n */}
      <DotPlot box={{ x0: 223, y0: 469, x1: 354, y1: 552 }} xd={[-1.03, 3.48]} yd={[0, 4]} yTicks={[0, 1, 2, 3, 4]}
        groups={[
          { pos: 0, vals: nWT }, { pos: 1, vals: nKO, open: true },
          { pos: 2, vals: nNK, open: true, color: RED }, { pos: 3, vals: nCD8, open: true, color: BLUE },
        ]}
        xTick={NTick} xh={30} r={3.6} meanW={20} t={20}
        sigs={[
          { x1: 0, x2: 0.83, y: 3.57, t: '***' },
          { x1: 0.83, x2: 1.9, y: 3.95, t: '****', c: RED },
          { x1: 0.83, x2: 2.76, y: 4.29, t: '****', c: BLUE },
        ]} yw={16} yfs={11} />
      <Txt x={205} y={510} s={10.5} rot>Tumor weight (g)</Txt>

      {/* o */}
      <PanelO />
      <Txt x={384} y={517} s={10.5} rot>Cell number</Txt>
      <Txt x={396} y={517} s={10.5} rot>(X10<Sup>3</Sup>/g tumor)</Txt>
      <Leg x={722} y={497} m="fill" line={false} w={8}>WT</Leg>
      <Leg x={722} y={508} m="open" line={false} w={8}>iKO</Leg>
      <Leg x={722} y={519} m="open" col={RED} line={false} w={8}>iKO α-NK1.1</Leg>
      <Leg x={722} y={531} m="open" col={BLUE} line={false} w={8}>iKO α-CD8</Leg>

      <Overlay />
    </div>
  );
}
